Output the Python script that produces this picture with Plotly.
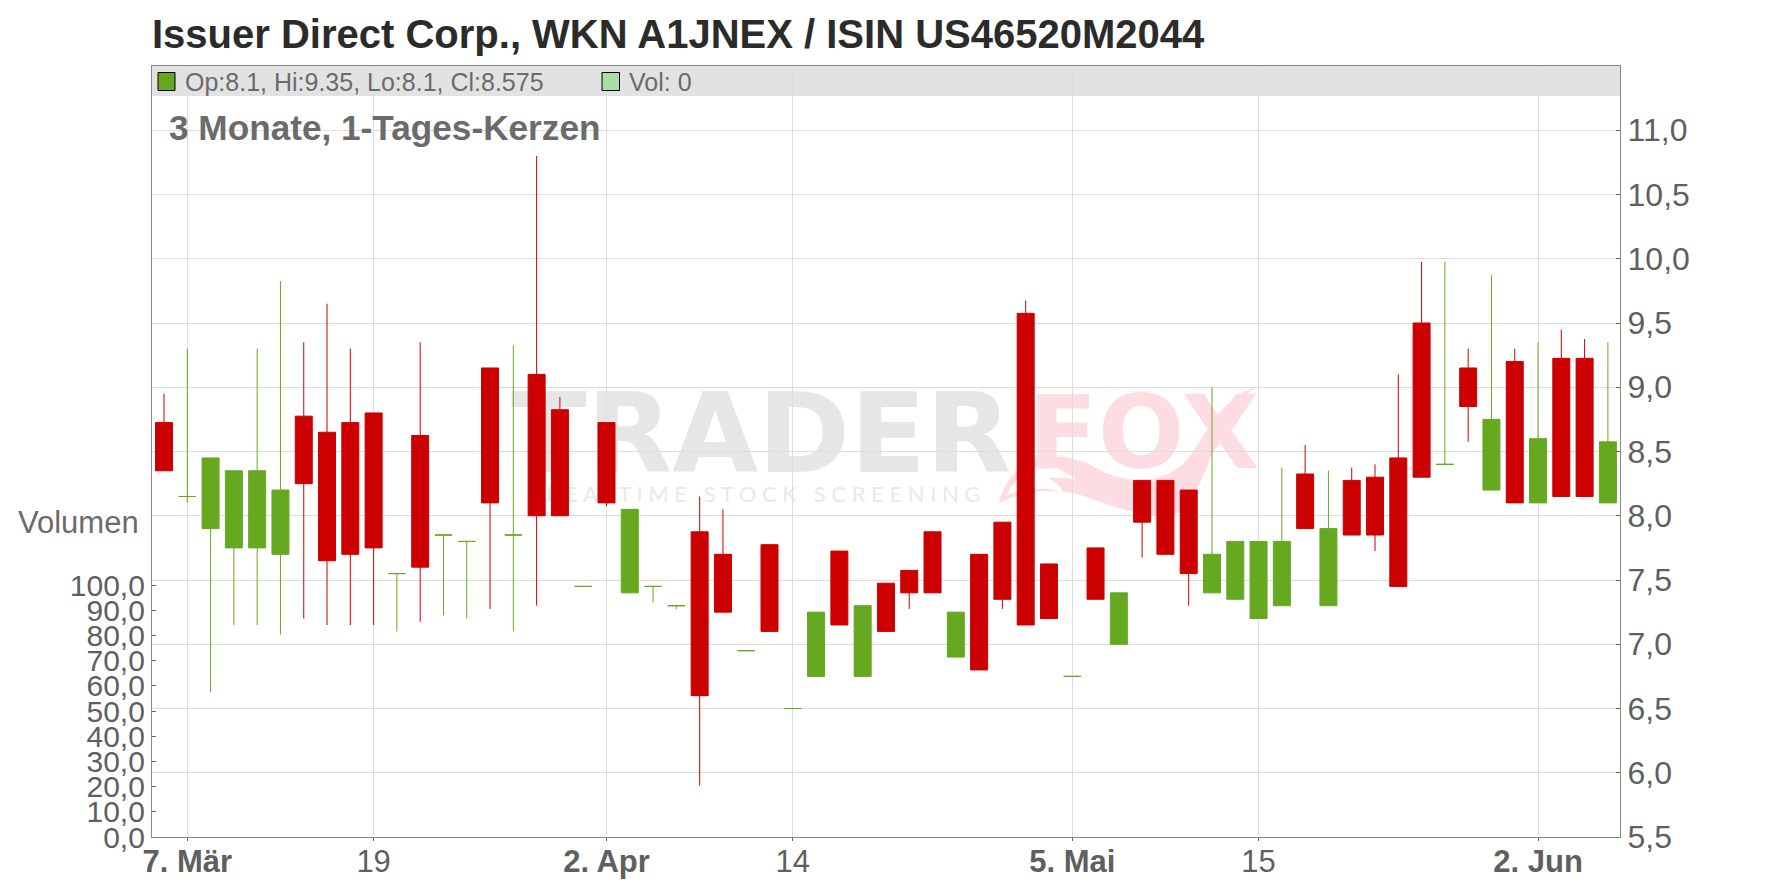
import plotly.graph_objects as go

title = "Issuer Direct Corp., WKN A1JNEX / ISIN US46520M2044"

# one entry per trading day
open_ = [8.725, 8.15, 7.9, 7.75, 7.75, 7.7, 8.775, 8.65, 8.725, 8.8,
         7.55, 8.625, 7.85, 7.8, 9.15, 7.85, 9.1, 8.825, 7.45, 8.725,
         7.4, 7.45, 7.3, 7.875, 7.7, 6.95, 7.775, 6.5, 6.75, 7.725,
         6.75, 7.475, 7.575, 7.875, 6.9, 7.7, 7.95, 9.575, 7.625, 6.75,
         7.75, 7.0, 8.275, 8.275, 8.2, 7.4, 7.35, 7.2, 7.3, 8.325,
         7.3, 8.275, 8.3, 8.45, 9.5, 8.4, 9.15, 8.2, 9.2, 8.1,
         9.225, 9.225, 8.1]
high = [8.95, 9.3, 8.45, 8.35, 9.3, 9.825, 9.35, 9.65, 9.3, 8.8,
        7.55, 9.35, 7.85, 7.8, 9.15, 9.325, 10.8, 8.925, 7.45, 8.725,
        8.05, 7.45, 7.3, 8.15, 8.05, 6.95, 7.775, 6.5, 7.25, 7.725,
        7.3, 7.475, 7.575, 7.875, 7.25, 7.7, 7.95, 9.675, 7.625, 6.75,
        7.75, 7.4, 8.275, 8.275, 8.2, 9.0, 7.8, 7.8, 8.375, 8.55,
        8.35, 8.375, 8.4, 9.1, 9.975, 9.975, 9.3, 9.875, 9.3, 9.35,
        9.45, 9.375, 9.35]
low = [8.35, 8.1, 6.625, 7.15, 7.15, 7.075, 7.2, 7.15, 7.15, 7.15,
       7.1, 7.175, 7.225, 7.2, 7.275, 7.1, 7.3, 8.0, 7.45, 8.075,
       7.4, 7.325, 7.275, 5.9, 7.25, 6.95, 7.1, 6.5, 6.75, 7.15,
       6.75, 7.1, 7.275, 7.4, 6.9, 6.8, 7.275, 7.15, 7.2, 6.75,
       7.35, 7.0, 7.675, 7.7, 7.3, 7.4, 7.35, 7.2, 7.3, 7.9,
       7.3, 7.85, 7.725, 7.45, 8.3, 8.4, 8.575, 8.2, 8.1, 8.1,
       8.15, 8.15, 8.1]
close = [8.35, 8.15, 8.45, 8.35, 8.35, 8.2, 8.25, 7.65, 7.7, 7.75,
         7.55, 7.6, 7.85, 7.8, 8.1, 7.85, 8.0, 8.0, 7.45, 8.1,
         8.05, 7.45, 7.3, 6.6, 7.25, 6.95, 7.1, 6.5, 7.25, 7.15,
         7.3, 7.1, 7.4, 7.4, 7.25, 6.8, 7.35, 7.15, 7.2, 6.75,
         7.35, 7.4, 7.95, 7.7, 7.55, 7.7, 7.8, 7.8, 7.8, 7.9,
         7.9, 7.85, 7.85, 7.45, 8.3, 8.4, 8.85, 8.75, 8.1, 8.6,
         8.15, 8.15, 8.575]
volume = [0, 0, 0, 0, 0, 0, 0, 0, 0, 0, 0, 0, 0, 0, 0, 0, 0, 0, 0, 0, 0,
          0, 0, 0, 0, 0, 0, 0, 0, 0, 0, 0, 0, 0, 0, 0, 0, 0, 0, 0, 0, 0,
          0, 0, 0, 0, 0, 0, 0, 0, 0, 0, 0, 0, 0, 0, 0, 0, 0, 0, 0, 0, 0]

date_ticks = [1, 9, 19, 27, 39, 47, 59]
date_labels = ["<b>7. Mär</b>", "19", "<b>2. Apr</b>", "14", "<b>5. Mai</b>", "15", "<b>2. Jun</b>"]
price_ticks = [5.5, 6.0, 6.5, 7.0, 7.5, 8.0, 8.5, 9.0, 9.5, 10.0, 10.5, 11.0]
volume_ticks = [0, 10, 20, 30, 40, 50, 60, 70, 80, 90, 100]

GREEN = "#66a920"
RED = "#cc0000"
GREY = "#6b6b6b"
TICK_GREY = "#5f5f5f"
FONT = "Liberation Sans"

W, H = 1776, 888
LEFT, RIGHT, TOP, BOTTOM = 152, 1620, 66, 837


def px(x, y):
    return (x - LEFT) / (RIGHT - LEFT), (BOTTOM - y) / (BOTTOM - TOP)


def box(x0, y0, x1, y1, **kw):
    a, b = px(x0, y1)
    c, d = px(x1, y0)
    return dict(type="rect", xref="paper", yref="paper", x0=a, y0=b, x1=c, y1=d, **kw)


def note(x, y, text, size, color=GREY, anchor="left"):
    a, b = px(x, y)
    return dict(xref="paper", yref="paper", x=a, y=b, text=text, showarrow=False,
                xanchor=anchor, yanchor="middle", font=dict(size=size, color=color, family=FONT))


def tail_path(segs):
    # logo outline, measured in a 3x crop starting at (980, 380)
    out = []
    for cmd, pts in segs:
        coords = []
        for zx, zy in pts:
            a, b = px(980 + zx / 3, 380 + zy / 3)
            coords.append(f"{a:.5f},{b:.5f}")
        out.append(cmd + " ".join(coords))
    return " ".join(out) + " Z"


tail = tail_path([
    ("M", [(55, 370)]),
    ("C", [(70, 320), (100, 260), (170, 235)]),
    ("C", [(230, 220), (300, 235), (350, 265)]),
    ("C", [(420, 305), (520, 320), (600, 260)]),
    ("C", [(670, 200), (700, 60), (835, 18)]),
    ("C", [(760, 60), (730, 130), (700, 210)]),
    ("C", [(660, 320), (620, 410), (560, 410)]),
    ("C", [(470, 410), (380, 370), (300, 345)]),
    ("C", [(210, 320), (130, 335), (55, 370)]),
]) + " " + tail_path([
    ("M", [(78, 348)]),
    ("C", [(95, 310), (130, 260), (215, 245)]),
    ("C", [(190, 250), (250, 270), (290, 298)]),
    ("C", [(260, 295), (230, 290), (205, 295)]),
    ("C", [(225, 305), (240, 320), (250, 335)]),
    ("C", [(190, 320), (130, 325), (78, 348)]),
])

fig = go.Figure()

days = list(range(len(close)))

# volume sits on the left axis, it is all zero here
fig.add_trace(go.Bar(x=days, y=volume, yaxis="y", marker=dict(color="#aadcaa", line=dict(width=0)),
                     showlegend=False, hoverinfo="skip"))

# two traces so a flat day stays green, plotly would colour it from the previous close
for color, keep in [(GREEN, [c >= o for o, c in zip(open_, close)]),
                    (RED, [c < o for o, c in zip(open_, close)])]:
    idx = [i for i in days if keep[i]]
    fig.add_trace(go.Candlestick(
        x=idx,
        open=[open_[i] for i in idx],
        high=[high[i] for i in idx],
        low=[low[i] for i in idx],
        close=[close[i] for i in idx],
        yaxis="y2",
        whiskerwidth=0,
        increasing=dict(line=dict(color=color, width=1), fillcolor=color),
        decreasing=dict(line=dict(color=color, width=1), fillcolor=color),
        showlegend=False,
    ))

shapes = [
    # watermark, under the grid
    box(505, 380, 1030, 470, layer="below", line_width=0, fillcolor="rgba(0,0,0,0)",
        label=dict(text="<b>TRADER</b>", textposition="middle left",
                   font=dict(size=111, color="#e6e6e6", family="DejaVu Sans"))),
    box(1022, 380, 1270, 470, layer="below", line_width=0, fillcolor="rgba(0,0,0,0)",
        label=dict(text="<b>FOX</b>", textposition="middle left",
                   font=dict(size=102, color="#fddde2", family="DejaVu Sans"))),
    box(540, 480, 990, 506, layer="below", line_width=0, fillcolor="rgba(0,0,0,0)",
        label=dict(text="R E A L T I M E   S T O C K   S C R E E N I N G", textposition="middle left",
                   font=dict(size=22, color="#e9e9e9", family="Lato"))),
    dict(type="path", xref="paper", yref="paper", path=tail, layer="below",
         fillcolor="#fddde2", line_width=0),
    # legend strip
    box(LEFT, TOP, RIGHT, 96, layer="between", line_width=0, fillcolor="#e2e2e2"),
    box(158, 72.5, 175, 90.5, layer="above", line=dict(color="black", width=1), fillcolor=GREEN),
    box(602, 72.5, 619.5, 90.5, layer="above", line=dict(color="black", width=1), fillcolor="#aadcaa"),
]

annotations = [
    note(183, 81.5, "Op:8.1, Hi:9.35, Lo:8.1, Cl:8.575", 25),
    note(627, 81.5, "Vol: 0", 25),
    note(167, 127.5, "<b>3 Monate, 1-Tages-Kerzen</b>", 35.2),
    note(141, 522, "Volumen", 31, anchor="right"),
]

fig.update_layout(
    width=W,
    height=H,
    autosize=False,
    margin=dict(l=LEFT, r=W - RIGHT, t=TOP, b=H - BOTTOM, autoexpand=False),
    title=dict(text=f"<b>{title}</b>", xref="container", x=LEFT / W, xanchor="left",
               yref="container", y=1 - 34 / H, yanchor="middle",
               font=dict(size=40, color="#2b2b2b", family=FONT)),
    paper_bgcolor="white",
    plot_bgcolor="white",
    font=dict(family=FONT),
    separators=",.",
    showlegend=False,
    boxmode="overlay",
    boxgap=0.27,
    boxgroupgap=0,
    shapes=shapes,
    annotations=annotations,
    xaxis=dict(
        range=[-0.516, 62.52],
        tickmode="array",
        tickvals=date_ticks,
        ticktext=date_labels,
        tickfont=dict(size=31, color=TICK_GREY),
        ticks="outside",
        ticklen=3,
        tickcolor="#666666",
        ticklabelstandoff=-6,
        showgrid=True,
        gridcolor="#dddddd",
        gridwidth=1,
        zeroline=False,
        showline=True,
        mirror=True,
        linecolor="#888888",
        linewidth=1.3,
        rangeslider=dict(visible=False),
    ),
    yaxis=dict(
        side="left",
        range=[0, 306],
        tickmode="array",
        tickvals=volume_ticks,
        tickformat=".1f",
        tickfont=dict(size=30, color=TICK_GREY),
        ticks="inside",
        ticklen=4,
        tickcolor="#666666",
        showgrid=False,
        zeroline=False,
        showline=True,
        linecolor="#888888",
        linewidth=1.3,
    ),
    yaxis2=dict(
        side="right",
        overlaying="y",
        range=[5.5, 11.5],
        tickmode="array",
        tickvals=price_ticks,
        tickformat=".1f",
        tickfont=dict(size=32, color=TICK_GREY),
        ticks="inside",
        ticklen=4,
        tickcolor="#666666",
        showgrid=True,
        gridcolor="#dddddd",
        gridwidth=1,
        zeroline=False,
        showline=True,
        linecolor="#888888",
        linewidth=1.3,
    ),
)

# page margin off, square corners on the candle bodies
page_js = """
document.body.style.margin = '0';
document.querySelectorAll('path.box').forEach(function (p) { p.style.strokeLinejoin = 'miter'; });
"""
fig.write_html("out.html", config={"displayModeBar": False}, post_script=page_js)
